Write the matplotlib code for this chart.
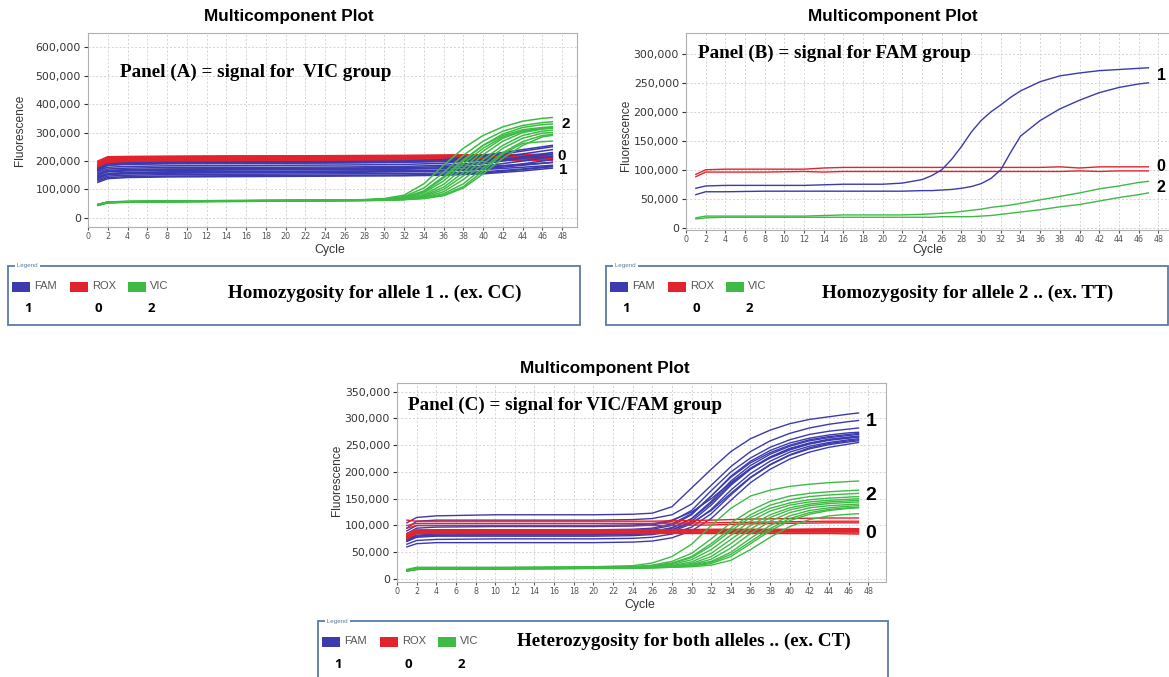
import matplotlib.pyplot as plt
from matplotlib.patches import Rectangle
from matplotlib.ticker import FuncFormatter
import numpy as np

W, H = 1169, 677

BLUE = "#3b3aae"
RED = "#e3232b"
GREEN = "#3dbb45"
BOX = "#5a7ba6"

CYCLE_TICKS = list(range(0, 50, 2))
LEGEND_NAMES = ["FAM", "ROX", "VIC"]
LEGEND_NUMS = ["1", "0", "2"]

# values below are fluorescence in thousands

# ---- Panel A : VIC group (homozygous allele 1)
A_FLAT_CYC = [1, 2, 4, 8, 14, 20, 26, 32, 36, 40, 44, 47]
A_RED = [
    [200, 215, 216, 217, 218, 218, 219, 220, 221, 222, 223, 224],
    [195, 212, 214, 215, 216, 217, 217, 218, 219, 220, 220, 221],
    [190, 210, 212, 213, 214, 214, 215, 216, 216, 217, 218, 219],
    [185, 207, 209, 210, 211, 212, 213, 214, 215, 216, 216, 217],
    [180, 205, 207, 208, 209, 209, 210, 211, 212, 213, 214, 215],
    [178, 203, 205, 206, 206, 207, 208, 209, 210, 210, 211, 212],
    [175, 200, 203, 204, 205, 205, 206, 207, 208, 209, 210, 210],
    [172, 198, 200, 201, 202, 203, 204, 205, 206, 207, 208, 208],
    [170, 196, 198, 199, 200, 201, 202, 203, 204, 205, 205, 206],
    [168, 193, 195, 196, 197, 198, 199, 200, 201, 202, 202, 203],
    [182, 208, 210, 211, 212, 213, 214, 215, 216, 217, 218, 219],
    [188, 211, 213, 214, 215, 216, 217, 218, 219, 220, 221, 222],
]
A_BLUE = [
    [125, 138, 142, 144, 145, 146, 147, 148, 150, 155, 165, 175],
    [130, 142, 145, 147, 148, 149, 150, 151, 153, 158, 170, 180],
    [135, 147, 150, 152, 153, 154, 155, 156, 158, 162, 172, 182],
    [140, 152, 155, 157, 158, 159, 160, 162, 165, 172, 185, 195],
    [145, 156, 160, 162, 163, 164, 165, 166, 168, 175, 190, 205],
    [150, 162, 165, 167, 168, 169, 170, 171, 174, 182, 200, 215],
    [155, 167, 170, 172, 173, 174, 175, 177, 180, 190, 210, 225],
    [160, 172, 175, 177, 178, 178, 179, 181, 185, 195, 215, 230],
    [165, 178, 181, 183, 184, 185, 186, 188, 192, 205, 225, 240],
    [170, 185, 188, 190, 191, 192, 193, 195, 200, 215, 235, 250],
    [175, 190, 193, 195, 196, 197, 198, 200, 205, 220, 240, 255],
    [150, 165, 168, 170, 171, 172, 173, 174, 176, 180, 188, 195],
    [140, 155, 158, 160, 161, 162, 163, 164, 166, 170, 178, 185],
    [165, 185, 190, 192, 193, 194, 195, 196, 198, 202, 210, 215],
]
A_AMP_CYC = [1, 2, 4, 10, 20, 28, 30, 32, 34, 36, 38, 40, 42, 44, 46, 47]
A_GREEN = [
    [48, 56, 58, 60, 62, 64, 68, 80, 120, 185, 245, 290, 320, 340, 350, 353],
    [47, 55, 57, 59, 61, 63, 66, 75, 105, 160, 220, 270, 305, 325, 335, 338],
    [46, 55, 57, 59, 61, 63, 65, 72, 95, 145, 205, 255, 290, 310, 318, 320],
    [45, 54, 56, 58, 60, 62, 64, 70, 88, 130, 190, 245, 285, 305, 315, 318],
    [46, 55, 57, 59, 61, 63, 64, 68, 82, 118, 175, 235, 280, 305, 315, 318],
    [45, 54, 56, 58, 60, 62, 63, 66, 78, 108, 160, 222, 270, 300, 312, 315],
    [44, 53, 55, 57, 59, 61, 62, 65, 75, 100, 148, 205, 255, 290, 305, 308],
    [45, 54, 56, 58, 60, 62, 63, 65, 72, 92, 135, 190, 245, 280, 298, 300],
    [46, 55, 57, 59, 61, 63, 64, 66, 70, 85, 120, 175, 230, 268, 290, 293],
    [44, 53, 55, 57, 59, 61, 62, 64, 68, 78, 105, 155, 210, 255, 285, 290],
    [45, 54, 56, 58, 60, 62, 63, 65, 69, 80, 110, 165, 225, 262, 268, 270],
    [47, 56, 58, 60, 62, 64, 66, 72, 92, 140, 200, 255, 295, 318, 328, 330],
]

# ---- Panel B : FAM group (homozygous allele 2)
B_CYC = [1, 2, 4, 8, 12, 14, 16, 20, 22, 24, 25, 26, 27, 28, 29, 30, 31, 32,
         33, 34, 36, 38, 40, 42, 44, 46, 47]
B_RED = [
    [92, 100, 101, 101, 101, 103, 104, 104, 104, 104, 104, 104, 104, 104, 104,
     104, 104, 104, 104, 104, 104, 105, 103, 105, 105, 105, 105],
    [88, 96, 96, 96, 97, 96, 97, 97, 97, 97, 97, 97, 97, 97, 97, 97, 97, 97,
     97, 97, 97, 97, 98, 97, 98, 98, 98],
]
B_BLUE = [
    [68, 72, 73, 73, 73, 74, 75, 75, 77, 83, 90, 100, 118, 140, 165, 185, 200,
     212, 225, 236, 252, 262, 267, 271, 273, 275, 276],
    [57, 62, 62, 63, 63, 63, 63, 63, 63, 64, 64, 65, 66, 68, 71, 76, 85, 100,
     130, 158, 185, 205, 220, 233, 242, 248, 250],
]
B_GREEN = [
    [17, 20, 20, 20, 20, 21, 22, 22, 22, 23, 24, 25, 26, 28, 30, 32, 35, 37,
     39, 42, 48, 54, 60, 67, 72, 78, 80],
    [15, 17, 18, 18, 18, 18, 18, 18, 18, 18, 18, 19, 19, 19, 19, 20, 21, 23,
     25, 27, 31, 36, 40, 46, 52, 57, 60],
]

# ---- Panel C : VIC/FAM group (heterozygous)
C_FLAT_CYC = [1, 2, 4, 8, 14, 20, 26, 32, 36, 40, 44, 47]
C_RED = [
    [110, 108, 108, 108, 108, 108, 108, 110, 112, 113, 114, 114],
    [100, 104, 104, 104, 104, 104, 104, 105, 106, 107, 108, 108],
    [95, 100, 100, 100, 100, 100, 100, 101, 103, 104, 105, 105],
    [85, 92, 92, 92, 92, 92, 92, 93, 93, 93, 94, 94],
    [82, 90, 90, 90, 90, 90, 90, 90, 90, 91, 91, 91],
    [80, 88, 88, 88, 88, 88, 88, 88, 89, 89, 89, 89],
    [78, 87, 87, 87, 87, 87, 87, 87, 88, 88, 88, 88],
    [76, 86, 86, 86, 86, 86, 86, 86, 86, 86, 86, 86],
    [75, 85, 85, 85, 85, 85, 85, 85, 85, 85, 85, 84],
    [80, 89, 89, 90, 90, 90, 90, 91, 92, 92, 92, 92],
]
C_AMP_CYC = [1, 2, 4, 10, 20, 24, 26, 28, 30, 32, 34, 36, 38, 40, 42, 44, 46, 47]
C_BLUE = [
    [105, 115, 118, 120, 120, 121, 123, 135, 170, 205, 238, 262, 278, 290, 298, 303, 308, 310],
    [95, 108, 110, 110, 110, 111, 113, 120, 140, 175, 210, 238, 258, 272, 282, 289, 294, 296],
    [85, 95, 97, 98, 98, 99, 101, 108, 128, 165, 200, 226, 246, 260, 270, 276, 280, 282],
    [80, 88, 90, 90, 90, 91, 93, 100, 120, 155, 192, 220, 240, 254, 263, 269, 273, 274],
    [75, 82, 84, 85, 85, 86, 88, 95, 113, 145, 183, 212, 233, 248, 258, 264, 268, 270],
    [72, 80, 82, 82, 82, 83, 85, 92, 108, 138, 175, 205, 227, 243, 253, 260, 264, 266],
    [70, 78, 80, 80, 80, 81, 83, 89, 103, 130, 166, 197, 220, 237, 248, 255, 260, 262],
    [65, 72, 74, 75, 75, 76, 78, 84, 97, 122, 157, 189, 213, 231, 243, 251, 256, 258],
    [60, 66, 68, 68, 68, 69, 71, 77, 90, 113, 147, 180, 205, 224, 237, 246, 252, 255],
    [78, 85, 86, 86, 86, 87, 89, 96, 112, 142, 178, 207, 228, 244, 254, 261, 265, 267],
    [82, 90, 92, 92, 92, 93, 95, 103, 122, 155, 190, 217, 236, 250, 260, 266, 270, 272],
    [90, 100, 100, 100, 100, 101, 103, 110, 125, 150, 180, 206, 226, 241, 252, 259, 263, 265],
    [74, 80, 82, 83, 83, 84, 86, 92, 105, 128, 160, 190, 214, 232, 245, 253, 258, 260],
]
C_GREEN = [
    [18, 22, 22, 22, 23, 25, 30, 42, 65, 100, 132, 155, 166, 173, 177, 180, 182, 183],
    [17, 20, 21, 21, 22, 23, 26, 33, 48, 75, 105, 128, 145, 155, 160, 163, 165, 166],
    [16, 19, 20, 20, 21, 22, 24, 29, 40, 62, 90, 115, 132, 142, 148, 151, 153, 154],
    [16, 19, 20, 20, 21, 22, 23, 27, 36, 55, 82, 108, 127, 138, 144, 147, 149, 150],
    [15, 18, 19, 19, 20, 21, 22, 25, 32, 48, 74, 100, 120, 133, 140, 144, 146, 147],
    [16, 19, 20, 20, 21, 21, 22, 24, 29, 42, 66, 93, 115, 129, 137, 141, 143, 144],
    [15, 18, 19, 19, 20, 21, 21, 23, 27, 37, 58, 85, 108, 124, 133, 137, 139, 140],
    [16, 19, 20, 20, 21, 21, 22, 23, 26, 33, 50, 76, 100, 118, 128, 133, 136, 137],
    [15, 18, 19, 19, 20, 20, 21, 22, 24, 29, 42, 66, 90, 109, 121, 128, 132, 133],
    [15, 18, 19, 19, 20, 20, 21, 22, 23, 26, 35, 55, 78, 98, 111, 118, 121, 122],
    [16, 19, 20, 20, 21, 21, 22, 23, 25, 31, 46, 70, 94, 113, 124, 130, 133, 134],
    [17, 20, 21, 21, 22, 23, 25, 30, 42, 66, 95, 120, 138, 148, 154, 157, 159, 160],
]


fig = plt.figure(figsize=(W / 100, H / 100), dpi=100)


def fx(x):
    return x / W


def fy(y):
    return 1 - y / H


def make_axes(left, top, right, bottom):
    return fig.add_axes([fx(left), fy(bottom), (right - left) / W, (bottom - top) / H])


def style_axes(ax, xmax, ylim, ystep):
    ax.set_xlim(0, xmax)
    ax.set_ylim(*ylim)
    ax.set_xticks(CYCLE_TICKS)
    ax.set_yticks(np.arange(0, ylim[1], ystep))
    ax.yaxis.set_major_formatter(FuncFormatter(lambda v, p: f"{v:,.0f}"))
    ax.tick_params(axis="x", labelsize=5.8, colors="#555555", length=2, pad=1.5)
    ax.tick_params(axis="y", labelsize=7.8, colors="#333333", length=3, pad=2)
    ax.grid(True, color="#d4d4d4", linestyle=(0, (2, 2)), linewidth=0.7)
    for s in ax.spines.values():
        s.set_color("#b0b0b0")
    ax.set_axisbelow(True)


def draw_group(ax, cycles, curves, color, lw):
    for c in curves:
        ax.plot(cycles, np.array(c) * 1000, color=color, lw=lw, solid_joinstyle="round")


def panel_texts(title_xy, ylab_xy, cyc_xy, panel_xy, panel_text):
    fig.text(fx(title_xy[0]), fy(title_xy[1]), "Multicomponent Plot", ha="center",
             va="center", fontsize=12.3, fontweight="bold", family="Liberation Sans")
    fig.text(fx(ylab_xy[0]), fy(ylab_xy[1]), "Fluorescence", rotation=90, ha="center",
             va="center", fontsize=8.6, color="#333333", family="Liberation Sans")
    fig.text(fx(cyc_xy[0]), fy(cyc_xy[1]), "Cycle", ha="center", va="center",
             fontsize=8.8, color="#333333", family="Liberation Sans")
    fig.text(fx(panel_xy[0]), fy(panel_xy[1]), panel_text, ha="left", va="center",
             fontsize=13.8, fontweight="bold", family="Liberation Serif")


def group_labels(items, size):
    for x, y, s in items:
        fig.text(fx(x), fy(y), s, ha="center", va="center", fontsize=size,
                 fontweight="bold", family="Liberation Sans")


def legend_box(x0, y0, x1, y1, text, text_x, text_y):
    fig.patches.append(Rectangle((fx(x0), fy(y1)), (x1 - x0) / W, (y1 - y0) / H,
                                 transform=fig.transFigure, fill=False, ec=BOX, lw=1.3))
    fig.text(fx(x0 + 7), fy(y0), " Legend ", fontsize=4.5, color=BOX, va="center",
             ha="left", family="Liberation Sans",
             bbox=dict(fc="white", ec="none", pad=0.2))
    colors = [BLUE, RED, GREEN]
    for i, (name, num, col) in enumerate(zip(LEGEND_NAMES, LEGEND_NUMS, colors)):
        px = x0 + 4 + i * 58
        fig.patches.append(Rectangle((fx(px), fy(y0 + 26)), 18 / W, 10 / H,
                                     transform=fig.transFigure, fc=col, ec="none"))
        fig.text(fx(px + 22), fy(y0 + 20), name, fontsize=8, color="#555555",
                 va="center", ha="left", family="Liberation Sans")
        fig.text(fx([x0 + 20, x0 + 90, x0 + 143][i]), fy(y0 + 43), num, fontsize=9.5,
                 fontweight="bold", va="center", ha="center", family="Open Sans")
    fig.text(fx(text_x), fy(text_y), text, fontsize=13.8, fontweight="bold",
             family="Liberation Serif", va="center", ha="left")


# Panel A
axA = make_axes(88, 33, 577, 227)
style_axes(axA, 49.5, (-32000, 650000), 100000)
draw_group(axA, A_FLAT_CYC, A_RED, RED, 1.1)
draw_group(axA, A_FLAT_CYC, A_BLUE, BLUE, 1.1)
draw_group(axA, A_AMP_CYC, A_GREEN, GREEN, 1.1)
panel_texts((289, 17), (20, 130), (330, 250), (120, 72), "Panel (A) = signal for  VIC group")
group_labels([(566, 124, "2"), (562, 156, "0"), (563, 170, "1")], 11)
legend_box(8, 266, 580, 325, "Homozygosity for allele 1 .. (ex. CC)", 228, 293)

# Panel B
axB = make_axes(686, 33, 1172, 230)
style_axes(axB, 49.4, (-4000, 336000), 50000)
draw_group(axB, B_CYC, B_RED, RED, 1.0)
draw_group(axB, B_CYC, B_BLUE, BLUE, 1.0)
draw_group(axB, B_CYC, B_GREEN, GREEN, 1.0)
panel_texts((893, 17), (626, 135), (928, 250), (698, 53), "Panel (B) = signal for FAM group")
group_labels([(1162, 75, "1"), (1161, 167, "0"), (1161, 188, "2")], 11.5)
legend_box(606, 266, 1168, 325, "Homozygosity for allele 2 .. (ex. TT)", 822, 293)

# Panel C
axC = make_axes(397, 383, 886, 582)
style_axes(axC, 49.8, (-5500, 366000), 50000)
draw_group(axC, C_AMP_CYC, C_BLUE, BLUE, 1.0)
draw_group(axC, C_FLAT_CYC, C_RED, RED, 1.0)
draw_group(axC, C_AMP_CYC, C_GREEN, GREEN, 1.0)
panel_texts((605, 368), (337, 480), (640, 605), (408, 405), "Panel (C) = signal for VIC/FAM group")
group_labels([(871, 422, "1"), (871, 496, "2"), (871, 534, "0")], 14)
legend_box(318, 621, 888, 690, "Heterozygosity for both alleles .. (ex. CT)", 517, 641)

fig.savefig("out.png", dpi=100)
